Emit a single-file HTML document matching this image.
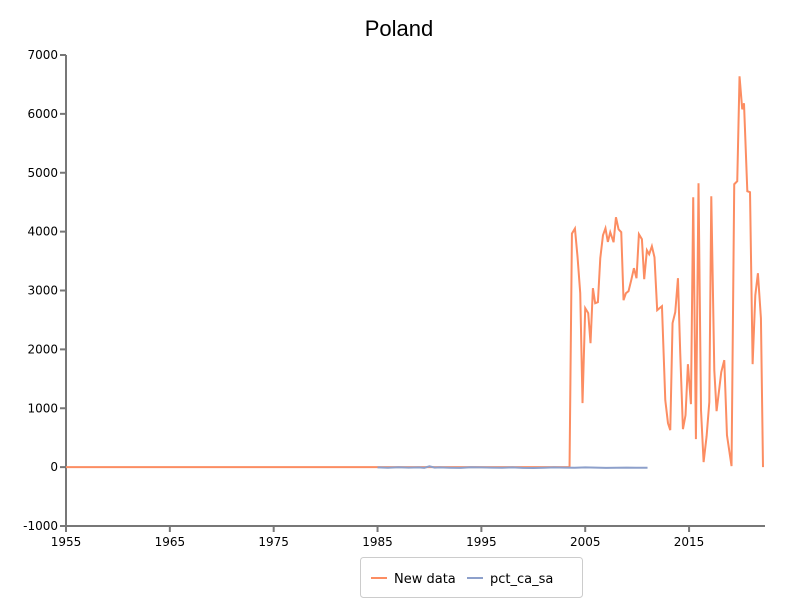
<!DOCTYPE html>
<html><head><meta charset="utf-8"><style>
body{margin:0;background:#fff;}
svg text{font-family:"DejaVu Sans","Liberation Sans",sans-serif;}
</style></head><body>
<svg id="chart" width="800" height="600" xmlns="http://www.w3.org/2000/svg">
<text x="399" y="36" text-anchor="middle" font-size="22" style="font-family:'Liberation Sans',sans-serif" fill="#000">Poland</text>
<g id="axes"></g>
<g id="series"></g>
<g>
<rect x="360.5" y="557.5" width="222" height="40" rx="3" fill="#fff" stroke="#ccc"/>
<line x1="371" y1="578" x2="387" y2="578" stroke="#fc8d62" stroke-width="2"/>
<text x="394" y="583" font-size="13">New data</text>
<line x1="467" y1="578" x2="483" y2="578" stroke="#8da0cb" stroke-width="2"/>
<text x="490" y="583" font-size="13">pct_ca_sa</text>
</g>
</svg>
<script>
const xTicks=[1955,1965,1975,1985,1995,2005,2015];
const yTicks=[-1000,0,1000,2000,3000,4000,5000,6000,7000];
const newYears=[1955,2003.4,2003.49,2003.72,2004.01,2004.26,2004.52,2004.74,2005.0,2005.29,2005.51,2005.74,2005.96,2006.22,2006.45,2006.71,2006.95,2007.18,2007.41,2007.73,2007.96,2008.21,2008.47,2008.69,2008.92,2009.17,2009.43,2009.69,2009.94,2010.17,2010.46,2010.68,2010.94,2011.16,2011.42,2011.67,2011.93,2012.39,2012.71,2012.97,2013.19,2013.41,2013.67,2013.93,2014.15,2014.41,2014.66,2014.89,2015.18,2015.40,2015.66,2015.91,2016.15,2016.40,2016.69,2016.95,2017.14,2017.43,2017.65,2018.1,2018.39,2018.65,2019.09,2019.35,2019.64,2019.86,2020.12,2020.29,2020.61,2020.87,2021.12,2021.38,2021.63,2021.92,2022.12];
const newValues=[0,0,0,3967,4052,3570,2954,1087,2700,2615,2105,3039,2784,2801,3548,3939,4057,3825,3990,3820,4244,4040,3990,2835,2954,2988,3175,3379,3209,3956,3871,3192,3684,3616,3752,3565,2666,2733,1138,747,628,2445,2632,3209,1935,645,883,1749,1070,4584,475,4822,968,85,526,1104,4601,1647,951,1613,1817,543,17,4805,4856,6638,6078,6180,4686,4669,1749,2920,3294,2530,0];
const pctYears=[1985,1986,1987,1988,1989,1989.5,1990,1990.5,1991,1992,1993,1994,1995,1996,1997,1998,1999,2000,2001,2002,2003,2004,2005,2006,2007,2008,2009,2010,2011];
const pctValues=[-5,-10,-3,-8,-5,-12,15,-8,-5,-10,-12,-3,-5,-8,-10,-5,-12,-14,-10,-5,-8,-10,-5,-8,-12,-10,-8,-10,-10];
const NS='http://www.w3.org/2000/svg';
const X0=66,X1=763,Y0=526,Y1=55;
const xMin=1955,xMax=2022.12,yMin=-1000,yMax=7000;
const xs=v=>X0+(v-xMin)/(xMax-xMin)*(X1-X0);
const ys=v=>Y0-(v-yMin)/(yMax-yMin)*(Y0-Y1);
const axes=document.getElementById('axes'),series=document.getElementById('series');
function mk(tag,attrs,parent){const e=document.createElementNS(NS,tag);for(const k in attrs)e.setAttribute(k,attrs[k]);parent.appendChild(e);return e;}
const ya=mk('line',{x1:X0,y1:Y1,x2:X0,y2:Y0,stroke:'#777','stroke-width':2},axes);


const xa=mk('line',{x1:X0,y1:Y0,x2:X1+2,y2:Y0,stroke:'#777','stroke-width':2},axes);


yTicks.forEach(v=>{
 const t=mk('line',{x1:X0-6,y1:ys(v),x2:X0,y2:ys(v),stroke:'#777','stroke-width':2},axes);
 
 
 const l=mk('text',{x:X0-8,y:ys(v)+4,'text-anchor':'end','font-size':12},axes);
 
 
 l.textContent=v;
});
xTicks.forEach(v=>{
 const t=mk('line',{x1:xs(v),y1:Y0,x2:xs(v),y2:Y0+6,stroke:'#777','stroke-width':2},axes);
 
 
 const l=mk('text',{x:xs(v),y:Y0+20,'text-anchor':'middle','font-size':12},axes);
 
 
 l.textContent=v;
});
const p1=mk('polyline',{points:newYears.map((y,i)=>xs(y)+','+ys(newValues[i])).join(' '),fill:'none',stroke:'#fc8d62','stroke-width':2},series);


const p2=mk('polyline',{points:pctYears.map((y,i)=>xs(y)+','+ys(pctValues[i])).join(' '),fill:'none',stroke:'#8da0cb','stroke-width':2},series);


</script>
</body></html>
